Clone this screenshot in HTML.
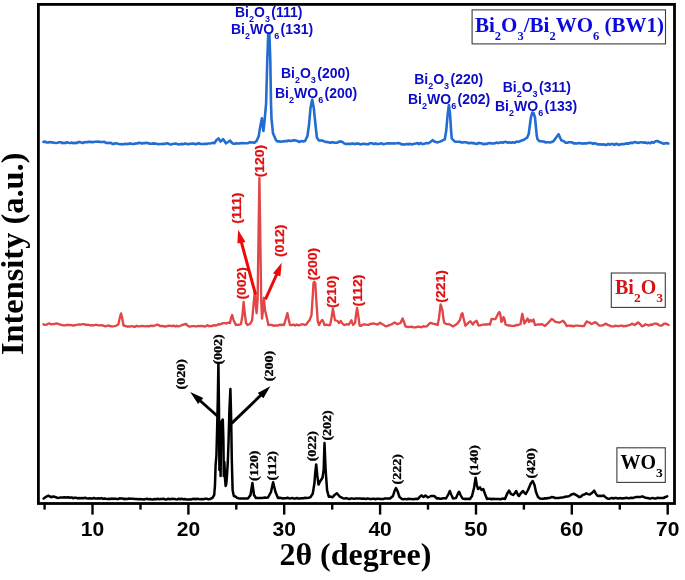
<!DOCTYPE html>
<html><head><meta charset="utf-8"><style>
html,body{margin:0;padding:0;background:#fff;}
body{width:685px;height:580px;overflow:hidden;}
svg{display:block;will-change:transform;}
</style></head><body>
<svg width="685" height="580" viewBox="0 0 685 580">
<rect x="0" y="0" width="685" height="580" fill="#fff"/>
<polyline points="43.5,141.9 45.1,141.6 46.6,142.5 48.2,142.5 49.7,142.0 51.3,142.4 52.8,142.4 54.4,142.8 55.9,143.0 57.5,142.8 59.1,142.3 60.7,142.2 62.3,143.2 63.9,142.7 65.5,143.1 67.0,142.2 68.6,142.7 70.2,143.1 71.8,142.5 73.4,143.3 75.0,142.8 76.5,143.2 78.1,142.1 79.6,142.1 81.2,142.6 82.7,143.0 84.2,142.3 85.8,142.1 87.3,142.3 88.8,141.7 90.4,141.9 91.9,142.1 93.4,142.1 95.0,141.7 96.5,141.7 98.1,141.6 99.6,141.9 101.2,142.0 102.8,142.0 104.4,141.9 106.0,143.0 107.6,142.8 109.2,143.1 110.8,142.7 112.4,143.9 114.0,143.9 115.6,143.2 117.2,143.6 118.8,144.0 120.3,144.2 121.9,144.1 123.4,144.4 125.0,143.7 126.5,144.1 128.1,143.9 129.6,143.4 131.2,143.7 132.7,144.0 134.3,143.9 135.8,143.4 137.4,143.5 138.9,142.8 140.5,143.0 142.0,143.6 143.6,143.1 145.1,143.1 146.8,142.8 148.4,143.4 150.1,143.6 151.7,143.7 153.4,143.4 155.0,143.6 156.7,143.8 158.3,144.2 160.0,144.0 161.6,144.0 163.1,143.8 164.7,144.0 166.2,143.4 167.8,143.4 169.3,144.2 170.9,144.5 172.4,144.0 174.0,143.8 175.5,143.5 177.1,143.9 178.7,144.4 180.2,144.2 181.8,143.9 183.3,144.2 184.9,143.5 186.4,143.8 188.0,144.3 189.5,143.9 191.1,143.7 192.6,143.5 194.2,143.8 195.7,144.3 197.3,143.7 198.8,143.1 200.4,144.0 201.9,144.0 203.5,144.0 205.0,143.8 206.6,143.9 208.1,143.5 209.7,143.5 211.2,143.3 212.8,142.8 214.3,143.3 216.5,140.0 218.5,138.4 220.6,141.6 223.2,139.1 225.9,143.3 228.0,142.0 230.1,140.6 231.7,142.6 233.3,143.7 234.8,143.7 236.3,143.2 237.8,143.5 239.4,143.4 240.9,143.2 242.4,143.1 243.9,143.2 245.4,143.3 246.9,143.2 248.4,142.9 250.0,142.3 251.5,142.5 253.0,142.4 254.5,142.7 256.5,141.0 258.7,136.3 260.0,128.0 261.9,118.3 263.4,131.0 264.7,119.4 266.1,103.5 267.3,60.0 268.2,34.0 269.4,34.0 270.3,60.0 271.0,103.5 271.5,118.6 273.0,133.3 275.9,140.0 277.3,141.4 278.8,141.4 280.4,141.7 281.9,141.5 283.5,141.4 285.0,141.0 286.7,141.3 288.4,140.5 290.1,141.1 291.8,140.7 293.5,140.4 295.4,140.4 297.4,140.9 299.3,142.0 301.2,141.1 303.1,141.6 305.0,141.0 306.5,138.0 307.4,136.2 309.0,125.0 310.5,108.0 312.2,99.6 313.8,108.0 315.5,125.0 316.9,137.7 319.0,140.5 320.8,140.5 322.5,140.6 324.3,141.4 326.2,142.0 328.1,142.1 330.0,142.8 331.8,142.3 333.5,142.4 335.2,142.8 337.0,142.8 338.9,141.7 340.9,141.4 342.5,142.0 344.2,143.4 345.8,144.0 347.4,143.9 349.0,143.8 350.6,144.0 352.2,143.4 353.8,143.9 355.4,143.9 357.0,143.6 358.6,143.5 360.2,144.5 361.8,144.0 363.4,143.7 365.0,144.0 366.5,144.1 368.0,144.3 369.5,143.3 371.0,143.3 372.5,143.4 374.0,144.1 375.5,143.4 377.0,144.0 378.5,143.9 380.0,143.7 381.6,143.3 383.1,144.2 384.6,143.9 386.1,143.6 387.6,143.2 389.1,143.6 390.6,143.3 392.1,143.5 393.6,143.2 395.1,143.5 396.6,143.3 398.4,143.0 400.1,143.5 401.9,144.5 403.6,144.2 405.1,144.6 406.7,143.9 408.2,144.5 409.7,143.7 411.3,144.4 412.8,144.2 414.3,143.7 415.9,143.5 417.4,143.1 418.9,144.1 420.4,143.0 422.0,143.9 423.5,144.0 425.0,143.5 426.6,143.0 428.1,143.3 430.3,142.1 432.5,140.1 434.2,141.4 436.0,141.9 437.7,142.4 439.9,141.6 442.1,140.7 444.8,139.3 446.3,130.0 447.6,115.0 448.9,105.0 450.1,115.0 451.2,132.0 451.8,138.5 453.6,140.5 455.3,141.7 456.8,141.7 458.4,141.8 459.9,141.8 461.4,142.5 462.9,142.4 464.4,142.2 466.0,142.3 467.5,142.9 469.1,143.2 470.7,142.8 472.3,143.1 473.9,143.0 475.5,143.8 477.0,143.9 478.6,142.9 480.2,143.2 481.8,143.4 483.4,144.3 485.0,143.8 486.6,144.0 488.2,143.3 489.8,143.0 491.4,143.4 493.0,143.5 494.6,143.4 496.3,142.6 497.9,143.1 499.5,142.7 501.1,142.3 502.7,142.7 504.3,142.0 506.1,141.9 507.8,142.7 509.6,142.2 511.3,142.9 513.0,142.2 514.8,142.7 516.5,141.5 518.3,141.9 520.0,141.2 521.7,140.6 523.3,140.1 525.0,139.0 527.1,137.7 528.7,134.0 529.7,126.3 531.0,117.0 532.3,112.5 533.5,113.0 535.0,117.5 536.7,135.0 537.4,139.0 539.3,141.2 540.8,141.2 542.3,141.4 543.8,141.5 545.4,142.4 546.9,142.2 548.4,142.3 550.1,142.5 551.7,142.0 553.4,141.2 556.0,137.7 558.6,134.2 561.2,140.3 563.4,141.0 565.6,142.6 567.2,142.7 568.8,142.3 570.4,142.3 572.0,142.4 573.6,143.4 575.2,143.4 576.8,143.5 578.4,143.0 580.0,143.3 581.6,143.4 583.2,143.6 584.9,143.2 586.5,143.4 588.1,143.0 589.7,142.8 591.4,143.0 593.0,143.8 594.6,143.3 596.4,143.7 598.2,144.5 600.1,144.2 601.9,144.6 603.5,144.3 605.0,144.9 606.6,144.9 608.2,143.9 609.7,144.7 611.3,144.0 612.8,144.0 614.4,144.9 616.0,143.9 617.5,144.1 619.1,145.0 620.7,144.2 622.2,143.9 623.8,144.3 625.5,143.6 627.1,143.4 628.8,143.6 630.5,142.6 632.2,143.2 633.8,142.3 635.5,142.1 637.1,142.8 638.7,142.9 640.3,142.3 641.9,142.3 643.6,142.7 645.2,142.4 646.8,143.2 648.4,142.6 650.0,143.3 651.9,142.1 653.7,142.7 655.5,141.3 657.4,141.0 659.3,142.0 661.3,142.7 663.2,143.6 664.9,143.4 666.6,143.1 668.3,143.6" fill="none" stroke="#226cd2" stroke-width="2.6" stroke-linejoin="round" stroke-linecap="round"/>
<polyline points="43.5,324.3 45.1,324.8 46.6,324.7 48.2,323.6 49.7,323.5 51.3,324.4 52.8,324.2 54.4,324.0 55.9,323.5 57.5,323.7 59.5,324.4 61.4,324.9 63.4,325.3 65.0,325.3 66.6,324.8 68.2,325.0 69.8,324.9 71.4,325.2 72.9,325.5 74.5,325.4 76.1,324.8 77.7,324.7 79.3,324.4 80.9,324.6 82.5,324.1 84.1,324.2 85.7,324.8 87.3,324.7 88.9,324.8 90.4,325.5 92.0,325.1 93.6,325.3 95.2,324.9 96.8,324.8 98.4,325.4 100.1,325.3 101.7,325.1 103.4,325.7 105.0,326.3 106.7,326.0 108.3,325.5 110.0,326.0 111.5,326.4 113.0,326.3 114.5,326.1 116.0,325.8 118.3,324.5 120.0,317.0 121.0,313.4 122.0,317.0 123.5,325.5 126.0,326.2 127.5,326.7 129.0,326.5 130.5,326.5 132.0,326.0 133.5,326.7 135.0,326.7 136.5,325.7 138.0,326.4 139.5,326.3 141.0,326.0 142.5,326.1 144.0,326.0 145.5,326.5 147.0,326.0 148.5,326.4 150.0,326.0 151.5,325.6 153.0,326.0 154.5,325.7 156.0,325.0 158.0,324.6 160.0,326.0 161.5,326.0 163.1,326.1 164.6,326.5 166.2,326.3 167.7,326.0 169.2,325.7 170.8,325.8 172.3,326.2 173.8,325.6 175.4,326.5 176.9,325.7 178.5,326.5 180.0,326.0 182.0,325.0 184.0,324.5 186.0,323.9 188.0,326.0 189.5,326.6 191.0,326.3 192.5,326.1 194.0,326.1 195.5,326.3 197.0,326.3 198.5,325.9 200.0,326.2 201.5,325.8 203.0,326.1 204.5,326.5 206.0,326.1 207.5,325.3 209.0,326.2 210.5,326.0 212.0,326.1 213.5,325.2 215.0,325.5 216.7,325.4 218.3,324.2 220.0,324.5 221.7,323.6 223.3,323.2 225.0,323.1 226.7,323.5 228.3,322.6 230.0,323.0 231.0,318.0 232.2,315.0 233.5,320.0 235.9,325.0 237.6,324.7 239.3,324.8 241.0,324.0 242.5,315.0 243.6,302.0 245.0,315.0 246.0,323.0 247.6,325.0 250.0,324.0 252.1,320.4 253.5,305.0 254.8,291.5 255.8,305.0 256.6,313.2 257.6,300.0 258.6,230.0 259.4,178.0 260.2,230.0 261.2,300.0 262.0,318.6 263.0,310.0 263.9,297.8 265.0,310.0 267.0,318.6 268.4,325.0 270.0,324.8 271.7,324.9 273.4,325.8 275.0,325.5 276.5,325.3 278.0,325.6 279.5,324.7 281.0,325.0 282.5,324.7 284.0,325.0 286.0,318.0 287.4,313.2 288.8,320.0 290.0,325.0 291.7,325.2 293.3,324.5 295.0,325.5 296.7,324.4 298.3,325.3 300.0,325.0 301.6,324.3 303.2,324.4 304.8,324.9 306.4,324.3 308.0,321.8 309.6,320.2 311.5,315.0 312.8,295.0 313.5,283.0 314.2,281.7 315.3,283.0 316.3,300.0 317.8,321.8 319.1,325.1 320.5,322.0 322.2,319.9 323.5,322.0 324.4,325.0 326.3,324.6 328.2,325.2 330.1,325.0 331.5,318.0 332.9,308.7 334.0,315.0 335.0,320.2 337.5,321.0 339.0,323.0 340.7,321.0 342.0,323.0 344.0,325.0 345.7,324.7 347.3,324.1 349.0,324.5 351.4,320.2 353.0,325.0 355.0,323.0 356.0,315.0 357.1,307.9 358.2,315.0 359.6,325.5 361.2,325.9 362.7,324.7 364.2,324.4 365.8,324.6 367.4,324.8 368.9,324.8 370.5,323.8 372.0,323.9 373.6,323.4 375.1,323.8 378.0,324.5 380.0,322.7 382.0,324.0 383.9,325.1 385.8,326.4 387.6,325.9 389.3,325.1 391.1,324.5 392.8,323.6 394.6,322.5 397.5,324.2 400.5,323.0 402.6,318.4 404.0,322.0 405.5,326.4 407.1,327.0 408.7,327.0 410.2,326.9 411.8,326.7 413.4,327.4 415.0,327.4 416.7,327.0 418.3,326.6 420.0,326.9 421.7,327.3 423.4,326.2 425.0,326.6 426.7,326.4 428.5,324.5 430.4,322.8 432.2,323.4 434.0,324.0 435.9,324.1 437.7,325.0 439.0,318.0 440.6,304.5 441.5,307.0 442.5,310.4 443.3,318.0 444.2,322.8 446.4,324.1 448.6,324.2 450.8,325.0 453.0,326.4 455.2,325.1 457.4,323.5 460.0,320.0 461.5,314.0 462.5,313.3 463.5,318.0 465.4,325.7 467.1,324.1 468.8,322.2 470.5,321.3 472.8,324.6 474.0,322.5 476.6,320.8 478.5,325.5 480.1,325.4 481.8,324.8 483.4,324.6 485.1,324.4 486.7,324.5 488.4,324.2 490.0,324.6 491.5,319.0 493.5,319.2 495.5,319.0 497.0,316.0 498.5,313.0 499.4,312.0 500.3,314.0 501.3,321.8 502.2,321.0 503.5,317.0 504.5,319.0 505.5,324.5 508.0,325.5 509.7,325.4 511.5,325.9 513.2,325.8 514.9,325.8 516.7,324.8 518.4,325.0 520.5,324.0 521.5,318.0 522.3,313.8 523.2,318.0 524.3,323.5 526.0,321.0 527.5,318.5 529.0,322.0 530.5,320.0 532.0,321.5 533.5,319.5 535.0,325.0 536.8,324.7 538.5,324.3 540.3,324.5 542.1,324.2 545.0,325.9 546.6,324.3 548.3,322.8 550.0,320.9 551.6,318.9 553.5,320.1 555.4,321.8 557.3,322.2 559.2,322.7 561.1,321.8 563.0,320.8 564.9,322.9 566.8,326.1 568.4,325.5 569.9,326.0 571.5,325.6 573.0,326.4 574.6,325.8 576.1,325.6 577.7,325.7 579.2,325.8 580.8,325.8 582.3,326.1 583.9,326.1 586.7,321.4 588.3,322.2 589.9,322.9 591.5,324.0 593.4,323.2 595.3,322.1 597.1,323.5 599.0,325.5 600.5,325.6 602.3,325.4 604.0,324.8 605.8,323.6 607.5,324.8 609.3,325.3 611.0,326.3 612.6,326.3 614.2,326.3 615.7,325.7 617.3,326.1 618.9,326.2 620.5,325.7 622.1,325.6 623.6,326.4 625.2,325.9 626.8,326.0 628.5,325.2 630.3,324.9 632.0,323.6 634.7,325.0 636.4,323.8 638.0,322.3 640.0,324.0 641.9,326.3 643.5,325.9 645.2,324.3 647.2,324.8 649.1,325.6 650.8,324.5 652.4,324.8 654.1,323.6 655.7,323.6 657.5,324.0 659.2,325.3 661.0,325.6 662.5,325.1 664.0,323.7 665.5,323.6 667.0,324.2 668.6,325.0" fill="none" stroke="#e24646" stroke-width="2.35" stroke-linejoin="round" stroke-linecap="round"/>
<polyline points="43.7,498.5 46.0,496.8 48.3,495.7 51.0,497.2 53.1,496.5 55.3,497.0 57.5,497.9 59.2,497.8 61.0,497.4 62.8,497.5 64.5,497.2 66.3,497.5 68.2,497.2 70.0,497.8 71.5,497.4 73.0,498.2 74.5,497.7 76.0,497.7 77.5,498.4 79.0,498.0 80.5,498.3 82.0,498.1 83.5,498.2 85.0,497.8 86.5,498.3 88.0,498.6 89.5,498.3 91.0,498.5 92.5,498.5 94.0,498.0 95.5,498.6 97.0,498.5 98.5,498.3 100.0,498.5 101.5,498.1 103.0,498.9 104.5,498.5 106.1,498.8 107.6,498.9 109.1,498.8 110.6,499.0 112.1,498.5 113.6,498.9 115.2,498.6 116.7,499.1 118.2,499.0 119.7,498.3 121.2,498.4 122.7,498.5 124.2,499.2 125.8,498.7 127.3,498.9 128.8,498.6 130.3,498.8 131.8,498.7 133.3,498.7 134.8,498.9 136.4,498.9 137.9,499.2 139.4,499.1 140.9,499.3 142.4,499.2 143.9,499.4 145.5,499.1 147.0,498.7 148.5,499.3 150.0,499.0 151.5,499.4 153.0,499.4 154.5,499.1 156.1,499.2 157.6,498.8 159.1,499.3 160.6,499.1 162.1,498.9 163.6,498.7 165.2,499.4 166.7,499.5 168.2,498.7 169.7,499.3 171.2,499.0 172.7,498.8 174.2,498.9 175.8,499.3 177.3,499.4 178.8,498.7 180.3,499.2 181.8,498.7 183.3,499.3 184.8,499.0 186.4,499.5 187.9,499.6 189.4,499.2 190.9,499.6 192.4,499.0 193.9,498.8 195.5,499.3 197.0,498.8 198.5,498.9 200.0,499.2 201.7,499.1 203.3,499.2 205.0,498.8 206.7,498.7 208.3,499.4 210.0,499.0 212.5,497.8 214.2,495.0 215.0,485.0 215.6,465.0 216.4,456.0 217.1,430.0 217.8,400.0 218.4,363.0 219.0,410.0 219.4,470.0 220.1,428.0 220.6,476.0 221.2,422.0 222.8,419.5 223.4,440.0 223.8,476.0 224.4,462.0 225.0,478.0 225.6,486.0 226.3,484.0 227.0,475.0 227.8,462.0 228.6,440.0 229.4,410.0 230.4,389.0 231.2,420.0 231.8,460.0 232.6,490.0 233.8,496.0 235.4,496.5 236.9,497.7 238.4,498.2 240.0,498.5 241.6,498.4 243.2,498.5 244.8,498.5 246.4,498.6 248.0,498.5 250.5,495.0 252.4,483.0 254.0,495.0 256.0,498.0 257.5,498.0 259.0,497.9 260.5,497.9 262.0,498.1 263.5,497.7 265.0,497.6 266.5,497.8 268.0,497.5 271.0,492.0 273.1,482.3 275.5,492.0 278.0,498.0 279.6,497.8 281.1,497.9 282.7,498.5 284.3,498.2 285.9,498.2 287.4,497.8 289.0,498.2 290.6,498.4 292.1,497.9 293.7,498.5 295.3,498.5 296.9,498.0 298.4,498.6 300.0,498.5 301.7,498.3 303.5,498.3 305.2,497.8 306.9,497.9 308.7,497.7 310.4,497.3 312.7,493.8 314.4,483.5 315.2,473.1 316.2,464.4 317.3,475.4 318.5,484.6 320.2,481.2 322.5,477.7 323.7,469.6 324.5,443.1 325.6,469.6 327.1,490.4 328.8,496.7 330.6,496.6 332.3,497.3 334.6,495.0 336.9,493.3 339.8,496.7 342.7,498.2 345.0,498.5 346.5,498.1 348.0,498.7 349.6,499.0 351.1,498.4 352.6,498.6 354.1,498.7 355.7,498.5 357.2,498.6 358.7,498.5 360.2,498.6 361.7,498.8 363.3,498.6 364.8,498.7 366.3,499.0 367.8,498.4 369.3,498.9 370.9,499.1 372.4,498.7 373.9,498.7 375.4,499.2 377.0,498.7 378.5,498.7 380.0,499.0 381.7,498.9 383.3,499.0 385.0,498.4 386.7,498.5 388.3,498.4 390.0,498.5 393.0,496.0 394.5,491.0 396.0,488.0 397.5,491.0 399.5,497.0 402.0,499.0 403.6,499.3 405.2,498.9 406.8,499.3 408.4,498.7 410.0,498.9 411.6,499.1 413.2,499.3 414.8,499.0 416.4,498.8 418.0,499.0 419.7,496.9 421.4,495.4 423.5,497.0 425.4,495.5 428.0,497.5 431.0,496.0 432.6,496.0 434.2,496.0 437.0,498.5 438.5,498.2 440.0,498.8 441.5,498.8 443.0,498.2 444.5,498.3 446.0,498.5 448.5,494.0 449.8,491.0 451.2,494.5 453.0,498.5 456.0,498.0 458.0,493.5 459.1,491.7 460.5,495.0 462.5,498.5 464.0,498.9 465.5,498.8 467.0,499.1 468.5,498.8 470.0,499.0 472.0,496.0 474.0,488.0 475.6,477.7 476.8,485.0 478.0,489.0 480.0,487.4 481.5,490.0 483.3,489.0 485.0,494.0 487.0,499.0 488.5,498.7 490.0,498.8 491.5,499.3 493.0,498.8 494.5,498.9 496.0,498.9 497.5,498.9 499.0,498.9 500.5,499.4 502.0,498.7 503.5,498.6 505.0,499.0 507.0,494.0 509.0,490.6 511.0,494.0 513.0,495.0 514.6,493.4 516.2,491.0 518.0,495.0 519.0,496.0 521.0,493.0 523.0,491.0 525.0,493.5 525.8,494.0 528.0,490.0 531.0,483.0 532.7,481.0 534.5,485.0 536.0,492.0 538.0,497.0 540.0,498.6 541.6,498.8 543.2,498.8 544.8,498.2 546.4,498.5 548.0,498.0 549.8,497.9 551.5,497.0 553.2,497.2 555.0,498.0 556.7,498.1 558.3,498.1 560.0,497.7 561.8,497.6 563.5,497.2 565.3,496.7 567.0,496.4 568.8,496.3 570.5,495.2 572.3,494.2 574.0,493.7 575.8,494.9 577.5,495.8 579.3,497.2 581.0,496.5 582.8,494.8 584.5,494.6 586.3,493.3 588.0,494.1 589.8,494.5 592.5,492.5 594.2,490.7 596.0,494.0 597.7,496.0 600.0,495.8 601.9,496.0 603.8,495.5 605.5,497.3 607.3,498.4 608.8,498.7 610.3,498.4 611.8,497.9 613.4,498.5 614.9,498.0 616.4,498.1 617.9,498.4 619.4,498.2 620.9,498.1 622.4,498.5 623.9,498.2 625.5,497.9 627.0,497.8 628.5,498.4 630.0,498.0 631.6,497.8 633.3,497.9 634.9,497.3 636.6,496.9 638.2,497.0 639.9,497.1 641.5,496.6 643.1,496.6 644.7,497.5 646.2,497.9 647.8,498.1 649.4,498.4 651.0,498.4 652.5,497.9 654.1,498.4 655.6,498.6 657.2,497.8 658.8,497.9 660.3,497.9 661.9,498.1 663.4,498.0 665.5,497.0 667.2,496.3" fill="none" stroke="#000" stroke-width="2.5" stroke-linejoin="round" stroke-linecap="round"/>
<rect x="38.4" y="4.4" width="636.1" height="499.1" fill="none" stroke="#000" stroke-width="2.8"/>
<line x1="44.6" y1="503.4" x2="44.6" y2="509.6" stroke="#000" stroke-width="2.4"/>
<line x1="92.5" y1="503.4" x2="92.5" y2="514.6" stroke="#000" stroke-width="2.4"/>
<text x="92.5" y="536" text-anchor="middle" font-family='"Liberation Sans", sans-serif' font-weight="bold" font-size="21" fill="#000">10</text>
<line x1="140.5" y1="503.4" x2="140.5" y2="509.6" stroke="#000" stroke-width="2.4"/>
<line x1="188.4" y1="503.4" x2="188.4" y2="514.6" stroke="#000" stroke-width="2.4"/>
<text x="188.4" y="536" text-anchor="middle" font-family='"Liberation Sans", sans-serif' font-weight="bold" font-size="21" fill="#000">20</text>
<line x1="236.3" y1="503.4" x2="236.3" y2="509.6" stroke="#000" stroke-width="2.4"/>
<line x1="284.2" y1="503.4" x2="284.2" y2="514.6" stroke="#000" stroke-width="2.4"/>
<text x="284.2" y="536" text-anchor="middle" font-family='"Liberation Sans", sans-serif' font-weight="bold" font-size="21" fill="#000">30</text>
<line x1="332.2" y1="503.4" x2="332.2" y2="509.6" stroke="#000" stroke-width="2.4"/>
<line x1="380.1" y1="503.4" x2="380.1" y2="514.6" stroke="#000" stroke-width="2.4"/>
<text x="380.1" y="536" text-anchor="middle" font-family='"Liberation Sans", sans-serif' font-weight="bold" font-size="21" fill="#000">40</text>
<line x1="428.0" y1="503.4" x2="428.0" y2="509.6" stroke="#000" stroke-width="2.4"/>
<line x1="476.0" y1="503.4" x2="476.0" y2="514.6" stroke="#000" stroke-width="2.4"/>
<text x="476.0" y="536" text-anchor="middle" font-family='"Liberation Sans", sans-serif' font-weight="bold" font-size="21" fill="#000">50</text>
<line x1="523.9" y1="503.4" x2="523.9" y2="509.6" stroke="#000" stroke-width="2.4"/>
<line x1="571.8" y1="503.4" x2="571.8" y2="514.6" stroke="#000" stroke-width="2.4"/>
<text x="571.8" y="536" text-anchor="middle" font-family='"Liberation Sans", sans-serif' font-weight="bold" font-size="21" fill="#000">60</text>
<line x1="619.8" y1="503.4" x2="619.8" y2="509.6" stroke="#000" stroke-width="2.4"/>
<line x1="667.7" y1="503.4" x2="667.7" y2="514.6" stroke="#000" stroke-width="2.4"/>
<text x="667.7" y="536" text-anchor="middle" font-family='"Liberation Sans", sans-serif' font-weight="bold" font-size="21" fill="#000">70</text>
<text x="355.4" y="565" text-anchor="middle" font-family='"Liberation Serif", serif' font-weight="bold" font-size="32" fill="#000">2θ (degree)</text>
<text transform="translate(23.2,253.8) rotate(-90)" text-anchor="middle" font-family='"Liberation Serif", serif' font-weight="bold" font-size="32.4" fill="#000">Intensity (a.u.)</text>
<rect x="472.1" y="9.9" width="193.4" height="34" fill="none" stroke="#3c3c3c" stroke-width="1.1"/>
<text x="475" y="31.6" font-family='"Liberation Serif", serif' font-weight="bold" font-size="21" fill="#0a0ae0">Bi<tspan font-size="12.5" dy="8">2</tspan><tspan dy="-8">O</tspan><tspan font-size="12.5" dy="8">3</tspan><tspan dy="-8">/Bi</tspan><tspan font-size="12.5" dy="8">2</tspan><tspan dy="-8">WO</tspan><tspan font-size="12.5" dy="8">6</tspan><tspan dy="-8"> (BW1)</tspan></text>
<rect x="611.3" y="273" width="54" height="34.4" fill="none" stroke="#3c3c3c" stroke-width="1.1"/>
<text x="615" y="294" font-family='"Liberation Serif", serif' font-weight="bold" font-size="20" fill="#d41414">Bi<tspan font-size="13.5" dy="7.6">2</tspan><tspan dy="-7.6">O</tspan><tspan font-size="13.5" dy="7.6">3</tspan></text>
<rect x="616.9" y="447.8" width="48.4" height="34.6" fill="none" stroke="#3c3c3c" stroke-width="1.1"/>
<text x="620.5" y="469.3" font-family='"Liberation Serif", serif' font-weight="bold" font-size="20" fill="#000">WO<tspan font-size="13.5" dy="7.4">3</tspan></text>
<text x="235.0" y="16.7" font-family='"Liberation Sans", sans-serif' font-weight="bold" font-size="14" fill="#0c0cc8">Bi<tspan font-size="9" dy="5">2</tspan><tspan dy="-5">O</tspan><tspan font-size="9" dy="5">3</tspan><tspan dy="-5" dx="1.4">(111)</tspan></text>
<text x="231.0" y="34.3" font-family='"Liberation Sans", sans-serif' font-weight="bold" font-size="14" fill="#0c0cc8">Bi<tspan font-size="9" dy="5">2</tspan><tspan dy="-5">WO</tspan><tspan font-size="9" dy="5">6</tspan><tspan dy="-5" dx="1.4">(131)</tspan></text>
<text x="280.9" y="78.1" font-family='"Liberation Sans", sans-serif' font-weight="bold" font-size="14" fill="#0c0cc8">Bi<tspan font-size="9" dy="5">2</tspan><tspan dy="-5">O</tspan><tspan font-size="9" dy="5">3</tspan><tspan dy="-5" dx="1.4">(200)</tspan></text>
<text x="275.0" y="98.2" font-family='"Liberation Sans", sans-serif' font-weight="bold" font-size="14" fill="#0c0cc8">Bi<tspan font-size="9" dy="5">2</tspan><tspan dy="-5">WO</tspan><tspan font-size="9" dy="5">6</tspan><tspan dy="-5" dx="1.4">(200)</tspan></text>
<text x="414.2" y="83.9" font-family='"Liberation Sans", sans-serif' font-weight="bold" font-size="14" fill="#0c0cc8">Bi<tspan font-size="9" dy="5">2</tspan><tspan dy="-5">O</tspan><tspan font-size="9" dy="5">3</tspan><tspan dy="-5" dx="1.4">(220)</tspan></text>
<text x="408.0" y="103.6" font-family='"Liberation Sans", sans-serif' font-weight="bold" font-size="14" fill="#0c0cc8">Bi<tspan font-size="9" dy="5">2</tspan><tspan dy="-5">WO</tspan><tspan font-size="9" dy="5">6</tspan><tspan dy="-5" dx="1.4">(202)</tspan></text>
<text x="502.7" y="91.7" font-family='"Liberation Sans", sans-serif' font-weight="bold" font-size="14" fill="#0c0cc8">Bi<tspan font-size="9" dy="5">2</tspan><tspan dy="-5">O</tspan><tspan font-size="9" dy="5">3</tspan><tspan dy="-5" dx="1.4">(311)</tspan></text>
<text x="495.0" y="111.1" font-family='"Liberation Sans", sans-serif' font-weight="bold" font-size="14" fill="#0c0cc8">Bi<tspan font-size="9" dy="5">2</tspan><tspan dy="-5">WO</tspan><tspan font-size="9" dy="5">6</tspan><tspan dy="-5" dx="1.4">(133)</tspan></text>
<line x1="218.5" y1="417" x2="196.5" y2="397.5" stroke="#000" stroke-width="2.9"/><polygon points="190.2,392.1 203.3,398.1 200.7,401.1 198.1,404.1" fill="#000"/>
<line x1="231.6" y1="423.4" x2="264.4" y2="391.8" stroke="#000" stroke-width="2.9"/><polygon points="270.3,386.2 257.7,393 260.5,395.6 263.4,398.2" fill="#000"/>
<line x1="255.6" y1="294.7" x2="240.1" y2="237.5" stroke="#ee0a0a" stroke-width="3.0"/><polygon points="238.1,229.8 237.4,243.5 241.4,242.7 245.5,241.9" fill="#ee0a0a"/>
<line x1="265.4" y1="299.3" x2="278.7" y2="270.0" stroke="#ee0a0a" stroke-width="3.0"/><polygon points="281.7,262.8 273,273.2 276.7,274.9 280.4,276.5" fill="#ee0a0a"/>
<text transform="translate(184.63,374.35) rotate(-90) scale(1,0.87)" text-anchor="middle" font-family='"Liberation Serif", serif' font-weight="bold" font-size="14" fill="#000" stroke="#000" stroke-width="0.35">(020)</text>
<text transform="translate(221.93,349.40) rotate(-90) scale(1,0.87)" text-anchor="middle" font-family='"Liberation Serif", serif' font-weight="bold" font-size="14" fill="#000" stroke="#000" stroke-width="0.35">(002)</text>
<text transform="translate(272.68,366.00) rotate(-90) scale(1,0.87)" text-anchor="middle" font-family='"Liberation Serif", serif' font-weight="bold" font-size="14" fill="#000" stroke="#000" stroke-width="0.35">(200)</text>
<text transform="translate(257.83,465.75) rotate(-90) scale(1,0.87)" text-anchor="middle" font-family='"Liberation Serif", serif' font-weight="bold" font-size="14" fill="#000" stroke="#000" stroke-width="0.35">(120)</text>
<text transform="translate(276.08,465.80) rotate(-90) scale(1,0.87)" text-anchor="middle" font-family='"Liberation Serif", serif' font-weight="bold" font-size="14" fill="#000" stroke="#000" stroke-width="0.35">(112)</text>
<text transform="translate(316.43,446.20) rotate(-90) scale(1,0.87)" text-anchor="middle" font-family='"Liberation Serif", serif' font-weight="bold" font-size="14" fill="#000" stroke="#000" stroke-width="0.35">(022)</text>
<text transform="translate(330.78,425.40) rotate(-90) scale(1,0.87)" text-anchor="middle" font-family='"Liberation Serif", serif' font-weight="bold" font-size="14" fill="#000" stroke="#000" stroke-width="0.35">(202)</text>
<text transform="translate(401.03,469.25) rotate(-90) scale(1,0.87)" text-anchor="middle" font-family='"Liberation Serif", serif' font-weight="bold" font-size="14" fill="#000" stroke="#000" stroke-width="0.35">(222)</text>
<text transform="translate(477.78,460.30) rotate(-90) scale(1,0.87)" text-anchor="middle" font-family='"Liberation Serif", serif' font-weight="bold" font-size="14" fill="#000" stroke="#000" stroke-width="0.35">(140)</text>
<text transform="translate(535.18,463.25) rotate(-90) scale(1,0.87)" text-anchor="middle" font-family='"Liberation Serif", serif' font-weight="bold" font-size="14" fill="#000" stroke="#000" stroke-width="0.35">(420)</text>
<text transform="translate(263.91,161.05) rotate(-90) scale(1,0.9)" text-anchor="middle" font-family='"Liberation Sans", sans-serif' font-weight="bold" font-size="14" fill="#e01010" stroke="#e01010" stroke-width="0.25">(120)</text>
<text transform="translate(240.96,208.15) rotate(-90) scale(1,0.9)" text-anchor="middle" font-family='"Liberation Sans", sans-serif' font-weight="bold" font-size="14" fill="#e01010" stroke="#e01010" stroke-width="0.25">(111)</text>
<text transform="translate(246.21,283.30) rotate(-90) scale(1,0.9)" text-anchor="middle" font-family='"Liberation Sans", sans-serif' font-weight="bold" font-size="14" fill="#e01010" stroke="#e01010" stroke-width="0.25">(002)</text>
<text transform="translate(284.26,240.80) rotate(-90) scale(1,0.9)" text-anchor="middle" font-family='"Liberation Sans", sans-serif' font-weight="bold" font-size="14" fill="#e01010" stroke="#e01010" stroke-width="0.25">(012)</text>
<text transform="translate(317.46,264.15) rotate(-90) scale(1,0.9)" text-anchor="middle" font-family='"Liberation Sans", sans-serif' font-weight="bold" font-size="14" fill="#e01010" stroke="#e01010" stroke-width="0.25">(200)</text>
<text transform="translate(336.01,291.80) rotate(-90) scale(1,0.9)" text-anchor="middle" font-family='"Liberation Sans", sans-serif' font-weight="bold" font-size="14" fill="#e01010" stroke="#e01010" stroke-width="0.25">(210)</text>
<text transform="translate(361.66,290.50) rotate(-90) scale(1,0.9)" text-anchor="middle" font-family='"Liberation Sans", sans-serif' font-weight="bold" font-size="14" fill="#e01010" stroke="#e01010" stroke-width="0.25">(112)</text>
<text transform="translate(444.76,286.40) rotate(-90) scale(1,0.9)" text-anchor="middle" font-family='"Liberation Sans", sans-serif' font-weight="bold" font-size="14" fill="#e01010" stroke="#e01010" stroke-width="0.25">(221)</text>
</svg></body></html>
